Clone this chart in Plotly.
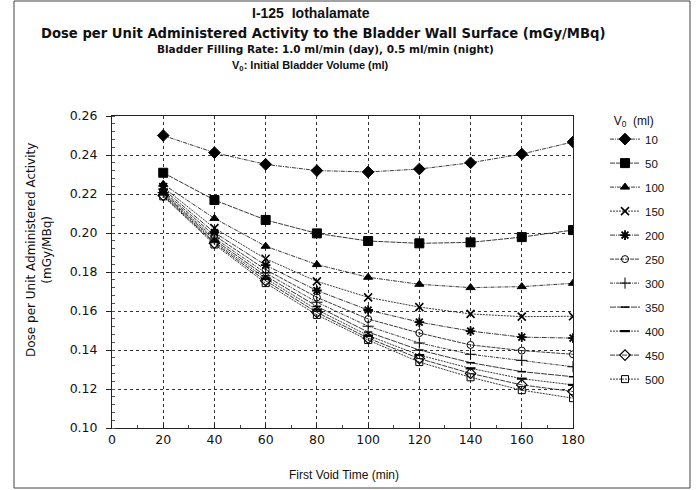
import plotly.graph_objects as go

first_void_time = [20, 40, 60, 80, 100, 120, 140, 160, 180]
v0_labels = ["10", "50", "100", "150", "200", "250", "300", "350", "400", "450", "500"]

dose_10 = [0.2500, 0.2412, 0.2352, 0.2320, 0.2313, 0.2328, 0.2360, 0.2405, 0.2467]
dose_50 = [0.2309, 0.2169, 0.2067, 0.1998, 0.1959, 0.1947, 0.1952, 0.1979, 0.2015]
dose_100 = [0.2250, 0.2075, 0.1932, 0.1838, 0.1773, 0.1737, 0.1720, 0.1725, 0.1742]
dose_150 = [0.2235, 0.2025, 0.1868, 0.1752, 0.1670, 0.1620, 0.1585, 0.1571, 0.1573]
dose_200 = [0.2225, 0.2002, 0.1835, 0.1705, 0.1605, 0.1543, 0.1497, 0.1466, 0.1461]
dose_250 = [0.2215, 0.1987, 0.1812, 0.1670, 0.1559, 0.1487, 0.1426, 0.1397, 0.1378]
dose_300 = [0.2208, 0.1974, 0.1795, 0.1645, 0.1522, 0.1436, 0.1378, 0.1347, 0.1314]
dose_350 = [0.2202, 0.1964, 0.1780, 0.1624, 0.1492, 0.1400, 0.1335, 0.1289, 0.1263]
dose_400 = [0.2197, 0.1955, 0.1767, 0.1607, 0.1474, 0.1374, 0.1306, 0.1253, 0.1221]
dose_450 = [0.2192, 0.1948, 0.1755, 0.1593, 0.1461, 0.1356, 0.1280, 0.1221, 0.1187]
dose_500 = [0.2188, 0.1941, 0.1743, 0.1580, 0.1451, 0.1338, 0.1260, 0.1194, 0.1153]

series = [dose_10, dose_50, dose_100, dose_150, dose_200, dose_250,
          dose_300, dose_350, dose_400, dose_450, dose_500]

y_ticks = [0.10, 0.12, 0.14, 0.16, 0.18, 0.20, 0.22, 0.24, 0.26]
x_ticks = [0, 20, 40, 60, 80, 100, 120, 140, 160, 180]

styles = [
    dict(symbol="diamond", size=9, lw=1),
    dict(symbol="square", size=9, lw=1),
    dict(symbol="triangle-up", size=8, lw=1),
    dict(symbol="x-thin-open", size=8, lw=1.6),
    dict(symbol="asterisk-open", size=8, lw=1.8),
    dict(symbol="circle-open", size=7, lw=1),
    dict(symbol="cross-thin-open", size=8, lw=1),
    dict(symbol="line-ew-open", size=6, lw=1.5),
    dict(symbol="line-ew-open", size=7, lw=2.2),
    dict(symbol="diamond-open", size=8, lw=1.2),
    dict(symbol="square-open", size=7, lw=1),
]
dashes = ["4px,1px,1px,1px", "5px,1px", "4px,1px,1px,1px", "2px,1px",
          "5px,1px,1px,1px", "4px,1px", "3px,1px,1px,1px", "6px,1px",
          "2px,1px", "5px,1px", "2px,1px"]

fig = go.Figure()
for lab, ys, st, dsh in zip(v0_labels, series, styles, dashes):
    fig.add_trace(go.Scatter(
        x=first_void_time, y=ys, mode="lines+markers", name=lab,
        legendgroup=lab,
        line=dict(color="#222", width=0.9, dash=dsh),
        marker=dict(symbol=st["symbol"], size=st["size"], color="black",
                    line=dict(color="black", width=st["lw"])),
    ))

L, R, T, B = 112, 573, 116, 428
W, H = 699, 490
pw, ph = R - L, B - T

def px_x(x):
    return (x - L) / pw

def px_y(y):
    return (B - y) / ph

arial = "Liberation Sans, Arial, sans-serif"
wide = "DejaVu Sans, Verdana, sans-serif"

annotations = [
    dict(text="<b>I-125  Iothalamate</b>", x=px_x(311), y=px_y(13), size=14, fam=arial),
    dict(text="<b>Dose per Unit Administered Activity to the Bladder Wall Surface (mGy/MBq)</b>",
         x=px_x(323), y=px_y(33), size=13.2, fam=wide),
    dict(text="<b>Bladder Filling Rate: 1.0 ml/min (day), 0.5 ml/min (night)</b>",
         x=px_x(325), y=px_y(49), size=10.5, fam=wide),
    dict(text="<b>V<sub>0</sub>: Initial Bladder Volume (ml)</b>",
         x=px_x(310), y=px_y(66), size=11, fam=arial),
    dict(text="First Void Time (min)", x=px_x(344), y=px_y(475), size=12, fam=arial),
]
ann = []
for a in annotations:
    ann.append(dict(text=a["text"], x=a["x"], y=a["y"], xref="paper", yref="paper",
                    xanchor="center", yanchor="middle", showarrow=False,
                    font=dict(family=a["fam"], size=a["size"], color="#111")))
ann.append(dict(text="Dose per Unit Administered Activity<br>(mGy/MBq)",
                x=px_x(39), y=px_y(250), xref="paper", yref="paper",
                xanchor="center", yanchor="middle", showarrow=False, textangle=-90,
                font=dict(family=wide, size=12, color="#111")))

fig.update_layout(
    width=W, height=H,
    margin=dict(l=L, r=W - R, t=T, b=H - B),
    paper_bgcolor="white", plot_bgcolor="white",
    font=dict(family=arial, size=12, color="#111"),
    annotations=ann,
    showlegend=True,
    legend=dict(
        x=px_x(605), y=px_y(109), xanchor="left", yanchor="top",
        xref="paper", yref="paper",
        title=dict(text="  V<sub>0</sub>  (ml)", font=dict(size=12, family=arial)),
        font=dict(size=11.5, family=arial, color="#111"),
        traceorder="grouped", tracegroupgap=5,
        bgcolor="rgba(0,0,0,0)", itemwidth=30, maxheight=420,
    ),
    shapes=[dict(type="rect", xref="paper", yref="paper",
                 x0=px_x(14), x1=px_x(690), y0=px_y(488), y1=px_y(1),
                 line=dict(color="#444", width=1))],
)

fig.update_xaxes(
    range=[0, 180], tickvals=x_ticks, ticktext=[str(v) for v in x_ticks],
    showgrid=True, gridcolor="#333", griddash="dot", gridwidth=1,
    showline=True, linecolor="#222", linewidth=1, mirror=True,
    ticks="inside", ticklen=4, tickcolor="#222",
    minor=dict(dtick=10, ticks="inside", ticklen=3, tickcolor="#444", showgrid=False),
    tickfont=dict(size=12.5, family=wide), zeroline=False,
)
fig.update_yaxes(
    range=[0.10, 0.26], tickvals=y_ticks, ticktext=[f"{v:.2f}" for v in y_ticks],
    showgrid=True, gridcolor="#333", griddash="dot", gridwidth=1,
    showline=True, linecolor="#222", linewidth=1, mirror=True,
    ticks="outside", ticklen=5, tickcolor="#222", ticklabelstandoff=6,
    minor=dict(dtick=0.004, ticks="inside", ticklen=3, tickcolor="#555", showgrid=False),
    tickfont=dict(size=12.5, family=wide), zeroline=False,
)

fig.write_html("out.html")
